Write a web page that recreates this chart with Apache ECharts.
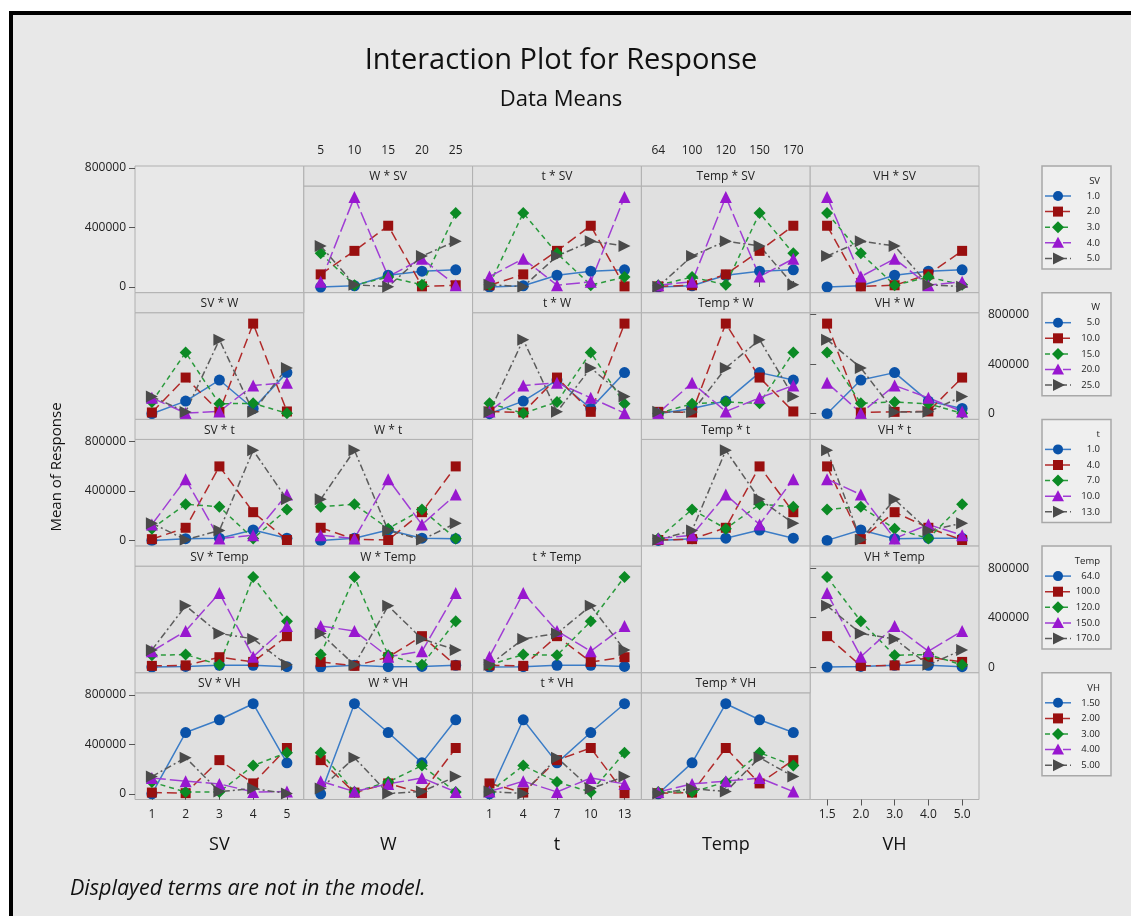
<!DOCTYPE html>
<html><head><meta charset="utf-8">
<script src="https://cdn.jsdelivr.net/npm/echarts@6/dist/echarts.min.js"></script>
<style>html,body{margin:0;padding:0;background:#fff;}#c{width:1131px;height:916px;}</style>
</head><body><div id="c"></div>
<script>
// ---------- data ----------
const factors = ['SV', 'W', 't', 'Temp', 'VH'];
const SV_ticks = ['1', '2', '3', '4', '5'];
const W_ticks = ['5', '10', '15', '20', '25'];
const t_ticks = ['1', '4', '7', '10', '13'];
const Temp_ticks = ['64', '100', '120', '150', '170'];
const VH_ticks = ['1.5', '2.0', '3.0', '4.0', '5.0'];
const SV_legend = ['1.0', '2.0', '3.0', '4.0', '5.0'];
const W_legend = ['5.0', '10.0', '15.0', '20.0', '25.0'];
const t_legend = ['1.0', '4.0', '7.0', '10.0', '13.0'];
const Temp_legend = ['64.0', '100.0', '120.0', '150.0', '170.0'];
const VH_legend = ['1.50', '2.00', '3.00', '4.00', '5.00'];
// L25 design runs (level numbers 1..5)
const run_SV   = [1,1,1,1,1, 2,2,2,2,2, 3,3,3,3,3, 4,4,4,4,4, 5,5,5,5,5];
const run_W    = [1,2,3,4,5, 1,2,3,4,5, 1,2,3,4,5, 1,2,3,4,5, 1,2,3,4,5];
const run_t    = [1,2,3,4,5, 2,3,4,5,1, 3,4,5,1,2, 4,5,1,2,3, 5,1,2,3,4];
const run_Temp = [1,2,3,4,5, 3,4,5,1,2, 5,1,2,3,4, 2,3,4,5,1, 4,5,1,2,3];
const run_VH   = [1,2,3,4,5, 4,5,1,2,3, 2,3,4,5,1, 5,1,2,3,4, 3,4,5,1,2];
const response = [
  0, 10000, 95000, 128000, 139000,
  102000, 292000, 495000, 5000, 14000,
  272000, 15000, 80000, 18000, 598000,
  42000, 728000, 84000, 228000, 15000,
  332000, 18000, 3000, 250000, 370000
];

// ---------- layout / style ----------
const runs = {SV: run_SV, W: run_W, t: run_t, Temp: run_Temp, VH: run_VH};
const TICKS = {SV: SV_ticks, W: W_ticks, t: t_ticks, Temp: Temp_ticks, VH: VH_ticks};
const LEGS = {SV: SV_legend, W: W_legend, t: t_legend, Temp: Temp_legend, VH: VH_legend};
const X0 = 135, CW = 168.8, Y0 = 166, RH = 126.7, HDR = 20;
const ZOFF = 121, PX800 = 99;
const PH = RH - HDR;
const YMIN = -(PH - (ZOFF - HDR)) / PX800 * 800000;
const YMAX = 800000 + (ZOFF - HDR - PX800) / PX800 * 800000;
const FONT = '"Open Sans", "Noto Sans", sans-serif';
const LINE_C = ['#3b7cc6', '#b02a2a', '#2a9a3c', '#a03ed4', '#5c5c5c'];
const MARK_C = ['#0a52a8', '#990f0f', '#0b8a24', '#9817cf', '#4a4a4a'];
const DASH = ['solid', [10, 5], [5, 4], [14, 4], [7, 3, 2, 3]];
const SYM = ['circle', 'rect', 'diamond', 'triangle', 'triangle'];
const SYMROT = [0, 0, 0, 0, -90];
const SYMSZ = [11, 10, 12, 12, 12];

function cellMean(rf, rk, cf, cj) {
  let s = 0, n = 0;
  for (let i = 0; i < response.length; i++) {
    if (runs[rf][i] === rk + 1 && runs[cf][i] === cj + 1) { s += response[i]; n++; }
  }
  return n ? s / n : null;
}

const grid = [], xAxis = [], yAxis = [], series = [], graphic = [];
function addGrid(g, xa, ya) {
  grid.push(g); const gi = grid.length - 1;
  xa.gridIndex = gi; ya.gridIndex = gi; xAxis.push(xa); yAxis.push(ya); return gi;
}
function catX(f) {
  return {type: 'category', data: TICKS[f], boundaryGap: true,
    axisLine: {show: false}, axisTick: {show: false}, axisLabel: {show: false}, splitLine: {show: false}};
}
function showX(ax, pos, off) {
  ax.position = pos; ax.offset = off || 0;
  ax.axisTick = {show: true, alignWithLabel: true, length: 6, lineStyle: {color: '#555'}};
  ax.axisLabel = {show: true, fontSize: 12, color: '#222', fontFamily: FONT, margin: 9};
  return ax;
}

for (let r = 0; r < 5; r++) {
  for (let c = 0; c < 5; c++) {
    const left = X0 + c * CW, top = Y0 + r * RH;
    const fr = factors[r], fc = factors[c];
    if (r === c) {
      const xa = catX(fc);
      if (r === 4) showX(xa, 'bottom');
      addGrid({left, top, width: CW, height: RH, show: true, backgroundColor: '#e8e8e8', borderColor: '#b0b0b0', borderWidth: 1},
        xa, {type: 'value', min: 0, max: 1, show: false});
      continue;
    }
    const xa = catX(fc);
    if (r === 0 && (c === 1 || c === 3)) showX(xa, 'top', HDR);
    if (r === 4 && (c === 0 || c === 2)) showX(xa, 'bottom');
    const gi = addGrid({left, top: top + HDR, width: CW, height: PH, show: true, backgroundColor: '#e0e0e0', borderColor: '#b0b0b0', borderWidth: 1},
      xa, {type: 'value', min: YMIN, max: YMAX, show: false});
    // header
    graphic.push({type: 'rect', z: 5, shape: {x: left, y: top, width: CW, height: HDR},
      style: {fill: '#e2e2e2', stroke: '#b0b0b0', lineWidth: 1}});
    graphic.push({type: 'text', z: 6, x: left + CW / 2, y: top + HDR / 2 + 1,
      style: {text: fc + ' * ' + fr, textAlign: 'center', textVerticalAlign: 'middle', font: '12px ' + FONT, fill: '#222'}});
    for (let k = 0; k < 5; k++) {
      const data = TICKS[fc].map((_, j) => cellMean(fr, k, fc, j));
      series.push({type: 'line', xAxisIndex: gi, yAxisIndex: gi, data, name: fr + ' ' + LEGS[fr][k],
        symbol: SYM[k], symbolRotate: SYMROT[k], symbolSize: SYMSZ[k],
        lineStyle: {color: LINE_C[k], width: 1.5, type: DASH[k]},
        itemStyle: {color: MARK_C[k]}, animation: false, silent: true, z: 3});
    }
  }
}
// y-axis label grids
for (let r = 0; r < 5; r++) {
  const zeroY = Y0 + r * RH + ZOFF;
  const px = r === 0 ? 119 : PX800;
  const onLeft = (r % 2 === 0);
  addGrid({left: onLeft ? X0 : X0 + 4 * CW, top: zeroY - px, width: CW, height: px, show: false},
    {type: 'value', show: false, min: 0, max: 1},
    {type: 'value', min: 0, max: 800000, interval: 400000, position: onLeft ? 'left' : 'right',
      axisLine: {show: false}, splitLine: {show: false},
      axisTick: {show: true, length: 6, lineStyle: {color: '#555'}},
      axisLabel: {fontSize: 12, color: '#222', fontFamily: FONT, margin: 9, formatter: v => String(v)}});
}

// legends
for (let b = 0; b < 5; b++) {
  const f = factors[b];
  const bt = Y0 + b * RH;
  graphic.push({type: 'rect', z: 1, shape: {x: 1042, y: bt, width: 69, height: 103},
    style: {fill: '#efefef', stroke: '#a8a8a8', lineWidth: 1.5}});
  graphic.push({type: 'text', z: 2, x: 1100, y: bt + 15,
    style: {text: f, textAlign: 'right', textVerticalAlign: 'middle', font: '9.5px ' + FONT, fill: '#222'}});
  LEGS[f].forEach((lab, k) => {
    const y = bt + 30 + k * 15.6, cx = 1058;
    graphic.push({type: 'line', z: 2, shape: {x1: 1045, y1: y, x2: 1071, y2: y},
      style: {stroke: LINE_C[k], lineWidth: 1.5, lineDash: k === 0 ? null : DASH[k]}});
    let m;
    if (k === 0) m = {type: 'circle', shape: {cx, cy: y, r: 5}};
    else if (k === 1) m = {type: 'rect', shape: {x: cx - 5, y: y - 5, width: 10, height: 10}};
    else if (k === 2) m = {type: 'polygon', shape: {points: [[cx, y - 6], [cx + 6, y], [cx, y + 6], [cx - 6, y]]}};
    else if (k === 3) m = {type: 'polygon', shape: {points: [[cx, y - 6], [cx + 6, y + 5], [cx - 6, y + 5]]}};
    else m = {type: 'polygon', shape: {points: [[cx - 5, y - 6], [cx + 7, y], [cx - 5, y + 6]]}};
    m.z = 3; m.style = {fill: MARK_C[k]};
    graphic.push(m);
    graphic.push({type: 'text', z: 3, x: 1100, y: y,
      style: {text: lab, textAlign: 'right', textVerticalAlign: 'middle', font: '9.5px ' + FONT, fill: '#222'}});
  });
}
// outer frame & texts
graphic.push({type: 'rect', z: -10, shape: {x: 11, y: 13, width: 1300, height: 1000},
  style: {fill: '#e8e8e8', stroke: '#000', lineWidth: 4}});
factors.forEach((f, c) => {
  graphic.push({type: 'text', z: 2, x: X0 + c * CW + CW / 2, y: 845,
    style: {text: f, textAlign: 'center', textVerticalAlign: 'middle', font: '18px ' + FONT, fill: '#111'}});
});
graphic.push({type: 'text', z: 2, x: 57, y: 467, rotation: Math.PI / 2,
  style: {text: 'Mean of Response', textAlign: 'center', textVerticalAlign: 'middle', font: '15px ' + FONT, fill: '#111'}});
graphic.push({type: 'text', z: 2, x: 70, y: 889,
  style: {text: 'Displayed terms are not in the model.', textAlign: 'left', textVerticalAlign: 'middle', font: 'italic 21.5px ' + FONT, fill: '#111'}});

const chart = echarts.init(document.getElementById('c'), null, {renderer: 'canvas'});
chart.setOption({
  backgroundColor: '#ffffff',
  animation: false,
  title: [
    {text: 'Interaction Plot for Response', left: 556, top: 41, textAlign: 'center',
      textStyle: {fontSize: 29, fontFamily: FONT, fontWeight: 500, color: '#111'}},
    {text: 'Data Means', left: 556, top: 84, textAlign: 'center',
      textStyle: {fontSize: 22, fontFamily: FONT, fontWeight: 500, color: '#111'}}
  ],
  grid, xAxis, yAxis, series, graphic
});
</script></body></html>
